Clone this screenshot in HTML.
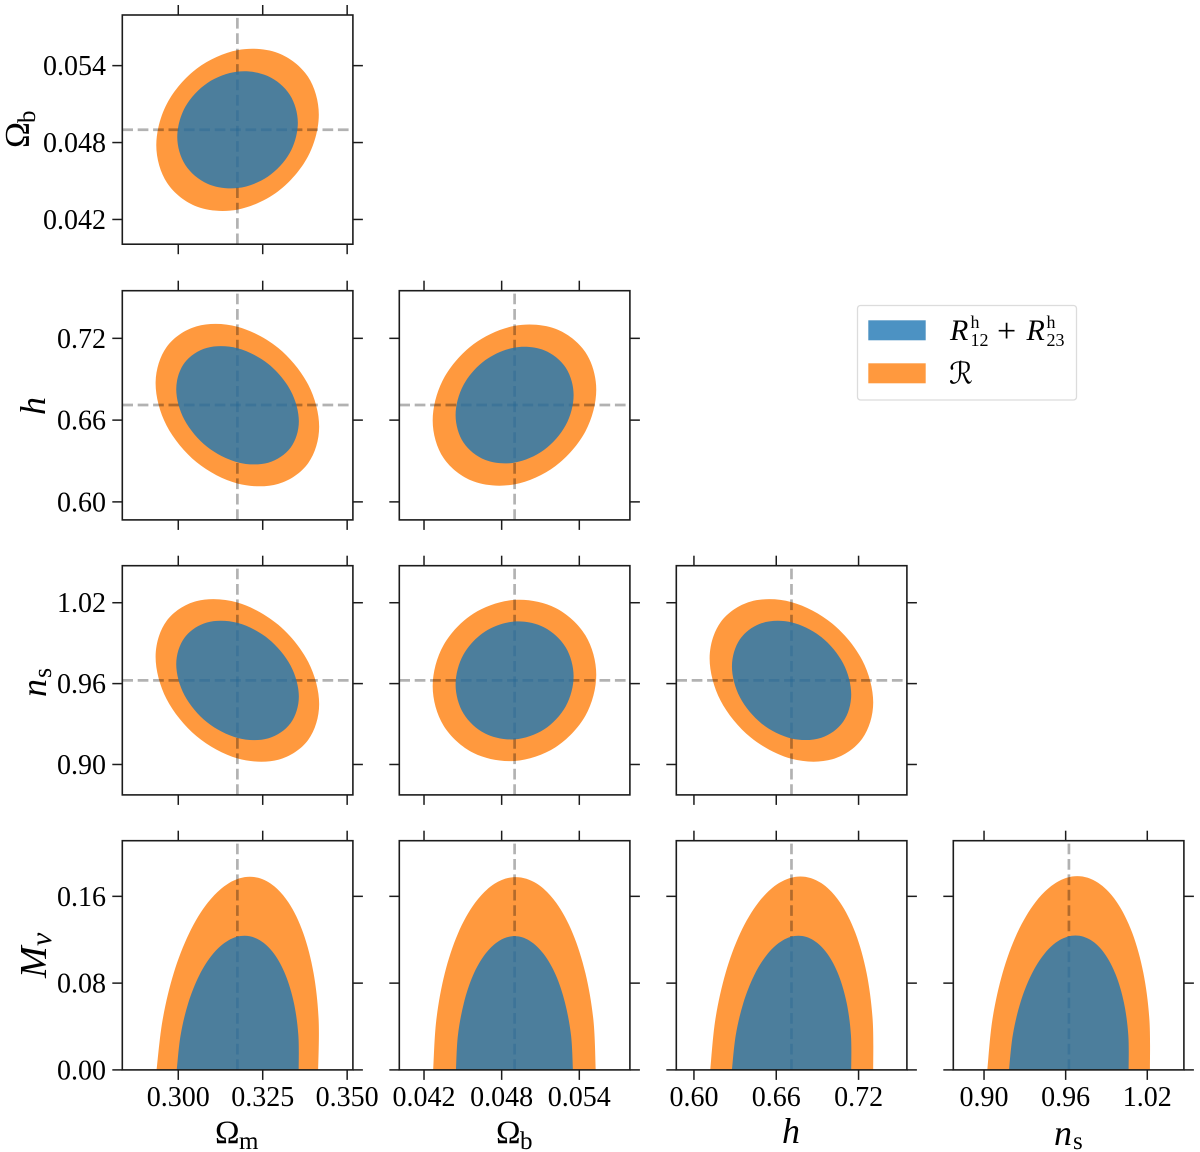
<!DOCTYPE html>
<html lang="en">
<head>
<meta charset="utf-8">
<title>Fisher forecast corner plot</title>
<style>
html,body{margin:0;padding:0;background:#fff;}
svg{display:block;font-family:"Liberation Serif","DejaVu Serif",serif;fill:#000;}
</style>
</head>
<body>
<svg id="corner-plot" xmlns="http://www.w3.org/2000/svg" width="1200" height="1152" viewBox="0 0 1200 1152">
  <g id="panels"></g>
  <g>
    <rect x="857.5" y="305.5" width="219" height="94.5" rx="3" fill="#fff" stroke="#dcdcdc" stroke-width="1.3"/>
    <g>
      <rect x="868.3" y="320.3" width="57.4" height="20" fill="#1f77b4" fill-opacity="0.8"/>
      <text y="340" font-size="30">
        <tspan x="950" font-style="italic">R</tspan><tspan x="970.5" y="328" font-size="18">h</tspan><tspan x="970.5" y="346" font-size="18">12</tspan><tspan x="997" y="342" font-size="34">+</tspan><tspan x="1026.5" y="340" font-style="italic">R</tspan><tspan x="1046.5" y="328" font-size="18">h</tspan><tspan x="1046.5" y="346" font-size="18">23</tspan>
      </text>
    </g>
    <g>
      <rect x="868.3" y="363.3" width="57.4" height="20" fill="#ff7f0e" fill-opacity="0.8"/>
      <text x="949" y="383.3" font-size="30" style="font-family:'DejaVu Serif','DejaVu Sans',serif">ℛ</text>
    </g>
  </g>
  <g>
    <text y="1143"><tspan x="215" font-size="33">Ω</tspan><tspan x="239" y="1149" font-size="25">m</tspan></text>
    <text y="1143"><tspan x="496" font-size="33">Ω</tspan><tspan x="520" y="1149" font-size="25">b</tspan></text>
    <text x="782" y="1143" font-size="36" font-style="italic">h</text>
    <text y="1145"><tspan x="1054" font-size="36" font-style="italic">n</tspan><tspan x="1073" y="1149" font-size="25">s</tspan></text>
  </g>
  <g>
    <text transform="translate(29,148) rotate(-90)"><tspan x="0" y="0" font-size="35">Ω</tspan><tspan x="25" y="6" font-size="25">b</tspan></text>
    <text transform="translate(45,415) rotate(-90)" font-size="36" font-style="italic">h</text>
    <text transform="translate(46,697) rotate(-90)"><tspan x="0" y="0" font-size="36" font-style="italic">n</tspan><tspan x="19" y="5" font-size="26">s</tspan></text>
    <text transform="translate(46,978) rotate(-90)"><tspan x="0" y="0" font-size="38" font-style="italic">M</tspan><tspan x="32" y="5" font-size="30" font-style="italic">ν</tspan></text>
  </g>
</svg>
<script>
// ---- axis ticks and truth values ----
const omegaMTicks = [0.300, 0.325, 0.350];
const omegaMTickLabels = ['0.300', '0.325', '0.350'];
const omegaBTicks = [0.042, 0.048, 0.054];
const omegaBTickLabels = ['0.042', '0.048', '0.054'];
const hTicks = [0.60, 0.66, 0.72];
const hTickLabels = ['0.60', '0.66', '0.72'];
const nsTicks = [0.90, 0.96, 1.02];
const nsTickLabels = ['0.90', '0.96', '1.02'];
const mNuTicks = [0.00, 0.08, 0.16];
const mNuTickLabels = ['0.00', '0.08', '0.16'];
const omegaMDomain = [0.28343, 0.3517];
const omegaBXDomain = [0.04009, 0.05791];
const hXDomain = [0.58714, 0.75523];
const nsXDomain = [0.87741, 1.04692];
const omegaBYDomain = [0.04007, 0.05795];
const hYDomain = [0.58678, 0.75496];
const nsYDomain = [0.87743, 1.04747];
const mNuDomain = [0, 0.2113];
const truthOmegaM = 0.3175;
const truthOmegaB = 0.049;
const truthH = 0.6711;
const truthNs = 0.9624;

// ---- contour vertices [x value, y value] ----
const omegaBvsOmegaMOuter = [[.34161,.05018],[.33839,.05314],[.32958,.05498],[.31755,.05521],[.30552,.05378],[.29671,.05107],[.29349,.04780],[.29671,.04484],[.30552,.04300],[.31755,.04277],[.32958,.04420],[.33839,.04691]];
const omegaBvsOmegaMInner = [[.33540,.04954],[.33301,.05173],[.32647,.05319],[.31755,.05353],[.30863,.05265],[.30209,.05079],[.29970,.04844],[.30209,.04625],[.30863,.04479],[.31755,.04445],[.32647,.04533],[.33301,.04719]];
const hvsOmegaMOuter = [[.34171,.65511],[.33847,.62847],[.32961,.61325],[.31750,.61349],[.30539,.62916],[.29653,.65604],[.29329,.68693],[.29653,.71357],[.30539,.72879],[.31750,.72855],[.32961,.71288],[.33847,.68600]];
const hvsOmegaMInner = [[.33570,.65914],[.33326,.63978],[.32662,.62876],[.31755,.62903],[.30848,.64051],[.30184,.66014],[.29940,.68264],[.30184,.70200],[.30848,.71302],[.31755,.71275],[.32662,.70127],[.33326,.68164]];
const hvsOmegaBOuter = [[.05531,.68228],[.05447,.70985],[.05215,.72703],[.04899,.72918],[.04583,.71577],[.04351,.69036],[.04267,.65976],[.04351,.63219],[.04583,.61501],[.04899,.61286],[.05215,.62627],[.05447,.65168]];
const hvsOmegaBInner = [[.05356,.67836],[.05295,.69849],[.05128,.71124],[.04900,.71322],[.04672,.70390],[.04505,.68576],[.04444,.66368],[.04505,.64355],[.04672,.63080],[.04900,.62882],[.05128,.63814],[.05295,.65628]];
const nsvsOmegaMOuter = [[.34171,.94483],[.33847,.91827],[.32961,.90354],[.31750,.90455],[.30539,.92106],[.29653,.94861],[.29329,.97987],[.29653,1.00643],[.30539,1.02116],[.31750,1.02015],[.32961,1.00364],[.33847,.97609]];
const nsvsOmegaMInner = [[.33570,.95039],[.33326,.93067],[.32662,.91940],[.31755,.91968],[.30848,.93138],[.30184,.95136],[.29940,.97431],[.30184,.99403],[.30848,1.00530],[.31755,1.00502],[.32662,.99332],[.33326,.97334]];
const nsvsOmegaBOuter = [[.05531,.96656],[.05447,.99586],[.05215,1.01619],[.04899,1.02210],[.04583,1.01198],[.04351,.98859],[.04267,.95814],[.04351,.92884],[.04583,.90851],[.04899,.90260],[.05215,.91272],[.05447,.93611]];
const nsvsOmegaBInner = [[.05356,.96542],[.05295,.98685],[.05128,1.00173],[.04900,1.00606],[.04672,.99866],[.04505,.98156],[.04444,.95928],[.04505,.93785],[.04672,.92297],[.04900,.91864],[.05128,.92604],[.05295,.94314]];
const nsvsHOuter = [[.73067,.94604],[.72268,.91916],[.70087,.90384],[.67105,.90421],[.64123,.92017],[.61942,.94740],[.61143,.97866],[.61942,1.00554],[.64123,1.02086],[.67105,1.02049],[.70087,1.00453],[.72268,.97730]];
const nsvsHInner = [[.71464,.95195],[.70882,.93181],[.69291,.91985],[.67117,.91928],[.64943,.93025],[.63352,.94983],[.62770,.97275],[.63352,.99289],[.64943,1.00485],[.67117,1.00542],[.69291,.99445],[.70882,.97487]];
const mNuvsOmegaMOuter = [[.34142,0],[.34156,.04608],[.34007,.08902],[.33703,.12589],[.33266,.15418],[.32726,.17197],[.32120,.17804],[.31488,.17197],[.30874,.15418],[.30321,.12589],[.29863,.08902],[.29536,.04608],[.29358,0]];
const mNuvsOmegaMInner = [[.33565,0],[.33555,.03199],[.33423,.06181],[.33177,.08741],[.32836,.10706],[.32420,.11941],[.31960,.12362],[.31486,.11941],[.31030,.10706],[.30625,.08741],[.30297,.06181],[.30069,.03199],[.29955,0]];
const mNuvsOmegaBOuter = [[.05527,0],[.05509,.04600],[.05448,.08887],[.05350,.12568],[.05222,.15393],[.05072,.17168],[.04909,.17774],[.04746,.17168],[.04594,.15393],[.04462,.12568],[.04360,.08887],[.04295,.04600],[.04271,0]];
const mNuvsOmegaBInner = [[.05351,0],[.05336,.03191],[.05290,.06166],[.05219,.08720],[.05125,.10679],[.05016,.11911],[.04899,.12331],[.04782,.11911],[.04673,.10679],[.04579,.08720],[.04508,.06166],[.04462,.03191],[.04447,0]];
const mNuvsHOuter = [[.73067,0],[.73028,.04616],[.72587,.08918],[.71774,.12611],[.70644,.15445],[.69275,.17227],[.67760,.17835],[.66201,.17227],[.64706,.15445],[.63376,.12611],[.62303,.08918],[.61556,.04616],[.61191,0]];
const mNuvsHInner = [[.71464,0],[.71445,.03199],[.71132,.06181],[.70545,.08741],[.69724,.10706],[.68725,.11941],[.67617,.12362],[.66475,.11941],[.65376,.10706],[.64397,.08741],[.63602,.06181],[.63047,.03199],[.62770,0]];
const mNuvsNsOuter = [[1.02196,0],[1.02157,.04624],[1.01714,.08933],[1.00896,.12633],[.99760,.15472],[.98382,.17257],[.96857,.17866],[.95288,.17257],[.93784,.15472],[.92444,.12633],[.91364,.08933],[.90613,.04624],[.90244,0]];
const mNuvsNsInner = [[1.00629,0],[1.00606,.03207],[1.00285,.06196],[.99687,.08762],[.98855,.10732],[.97844,.11970],[.96723,.12392],[.95568,.11970],[.94459,.10732],[.93471,.08762],[.92671,.06196],[.92114,.03207],[.91837,0]];

// ---- figure layout ----
const colLefts = [122.3, 399.3, 676.3, 953.3];
const rowTops = [15, 290.7, 565.7, 840.7];
const panelW = 230.6;
const panelH = 229.2;
const xAxes = [
  {id: 'omega-m', domain: omegaMDomain, ticks: omegaMTicks, labels: omegaMTickLabels, truth: truthOmegaM},
  {id: 'omega-b', domain: omegaBXDomain, ticks: omegaBTicks, labels: omegaBTickLabels, truth: truthOmegaB},
  {id: 'h', domain: hXDomain, ticks: hTicks, labels: hTickLabels, truth: truthH},
  {id: 'ns', domain: nsXDomain, ticks: nsTicks, labels: nsTickLabels, truth: truthNs}
];
const yAxes = [
  {id: 'omega-b', domain: omegaBYDomain, ticks: omegaBTicks, labels: omegaBTickLabels, truth: truthOmegaB},
  {id: 'h', domain: hYDomain, ticks: hTicks, labels: hTickLabels, truth: truthH},
  {id: 'ns', domain: nsYDomain, ticks: nsTicks, labels: nsTickLabels, truth: truthNs},
  {id: 'm-nu', domain: mNuDomain, ticks: mNuTicks, labels: mNuTickLabels, truth: null}
];
const panelList = [
  {col: 0, row: 0, outer: omegaBvsOmegaMOuter, inner: omegaBvsOmegaMInner},
  {col: 0, row: 1, outer: hvsOmegaMOuter, inner: hvsOmegaMInner},
  {col: 1, row: 1, outer: hvsOmegaBOuter, inner: hvsOmegaBInner},
  {col: 0, row: 2, outer: nsvsOmegaMOuter, inner: nsvsOmegaMInner},
  {col: 1, row: 2, outer: nsvsOmegaBOuter, inner: nsvsOmegaBInner},
  {col: 2, row: 2, outer: nsvsHOuter, inner: nsvsHInner},
  {col: 0, row: 3, outer: mNuvsOmegaMOuter, inner: mNuvsOmegaMInner},
  {col: 1, row: 3, outer: mNuvsOmegaBOuter, inner: mNuvsOmegaBInner},
  {col: 2, row: 3, outer: mNuvsHOuter, inner: mNuvsHInner},
  {col: 3, row: 3, outer: mNuvsNsOuter, inner: mNuvsNsInner}
];

const NS = 'http://www.w3.org/2000/svg';
const root = document.getElementById('panels');

function xPos(col, v) {
  const d = xAxes[col].domain;
  return colLefts[col] + (v - d[0]) / (d[1] - d[0]) * panelW;
}
function yPos(row, v) {
  const d = yAxes[row].domain;
  return rowTops[row] + panelH - (v - d[0]) / (d[1] - d[0]) * panelH;
}
function make(tag, attrs, parent) {
  const el = document.createElementNS(NS, tag);
  for (const k in attrs) el.setAttribute(k, attrs[k]);
  parent.appendChild(el);
  return el;
}
function f(n) { return n.toFixed(2); }
function splinePath(points, closed) {
  const n = points.length;
  const at = i => closed ? points[(i + n) % n] : points[Math.max(0, Math.min(n - 1, i))];
  let d = 'M' + f(points[0][0]) + ' ' + f(points[0][1]);
  const last = closed ? n : n - 1;
  for (let i = 0; i < last; i++) {
    const p0 = at(i - 1), p1 = at(i), p2 = at(i + 1), p3 = at(i + 2);
    d += 'C' + f(p1[0] + (p2[0] - p0[0]) / 6) + ' ' + f(p1[1] + (p2[1] - p0[1]) / 6) + ' ' +
         f(p2[0] - (p3[0] - p1[0]) / 6) + ' ' + f(p2[1] - (p3[1] - p1[1]) / 6) + ' ' +
         f(p2[0]) + ' ' + f(p2[1]);
  }
  return d + 'Z';
}
function contourPath(vertices, col, row) {
  const pts = vertices.map(v => [xPos(col, v[0]), yPos(row, v[1])]);
  return splinePath(pts, row !== 3);
}

panelList.forEach(function (p, idx) {
  const xa = xAxes[p.col], ya = yAxes[p.row];
  const slug = ya.id + '-vs-' + xa.id;
  const left = colLefts[p.col], top = rowTops[p.row];
  const right = left + panelW, bottom = top + panelH;

  const g = make('g', {}, root);
  
  

  const clip = make('clipPath', {id: 'clip-' + idx}, g);
  make('rect', {x: left, y: top, width: panelW, height: panelH}, clip);
  const marks = make('g', {'clip-path': 'url(#clip-' + idx + ')'}, g);

  const outer = make('path', {d: contourPath(p.outer, p.col, p.row), fill: '#ff7f0e', 'fill-opacity': 0.8}, marks);
  
  

  const vLine = make('line', {x1: xPos(p.col, xa.truth), x2: xPos(p.col, xa.truth), y1: bottom, y2: top,
    stroke: '#000', 'stroke-opacity': 0.3, 'stroke-width': 2.7, 'stroke-dasharray': '10.7 4.7'}, marks);
  
  

  if (ya.truth !== null) {
    const hLine = make('line', {x1: left, x2: right, y1: yPos(p.row, ya.truth), y2: yPos(p.row, ya.truth),
      stroke: '#000', 'stroke-opacity': 0.3, 'stroke-width': 2.7, 'stroke-dasharray': '10.7 4.7'}, marks);
    
    
  }

  const inner = make('path', {d: contourPath(p.inner, p.col, p.row), fill: '#1f77b4', 'fill-opacity': 0.8}, marks);
  
  

  const frame = make('rect', {x: left, y: top, width: panelW, height: panelH, fill: 'none', stroke: '#1c1c1c', 'stroke-width': 1.6}, g);
  
  

  xa.ticks.forEach(function (t, i) {
    const x = xPos(p.col, t);
    const tTop = make('line', {x1: x, x2: x, y1: top - 10, y2: top, stroke: '#1c1c1c', 'stroke-width': 1.5}, g);
    
    
    const tBot = make('line', {x1: x, x2: x, y1: bottom, y2: bottom + 10, stroke: '#1c1c1c', 'stroke-width': 1.5}, g);
    
    
    if (p.row === 3) {
      const lab = make('text', {x: x, y: 1106, 'font-size': 28, 'text-anchor': 'middle'}, g);
      lab.textContent = xa.labels[i];
      
      
    }
  });
  ya.ticks.forEach(function (t, i) {
    const y = yPos(p.row, t);
    const tL = make('line', {x1: left - 10, x2: left, y1: y, y2: y, stroke: '#1c1c1c', 'stroke-width': 1.5}, g);
    
    
    const tR = make('line', {x1: right, x2: right + 10, y1: y, y2: y, stroke: '#1c1c1c', 'stroke-width': 1.5}, g);
    
    
    if (p.col === 0) {
      const lab = make('text', {x: 106, y: y + 9.5, 'font-size': 28, 'text-anchor': 'end'}, g);
      lab.textContent = ya.labels[i];
      
      
    }
  });
});
</script>
</body>
</html>
